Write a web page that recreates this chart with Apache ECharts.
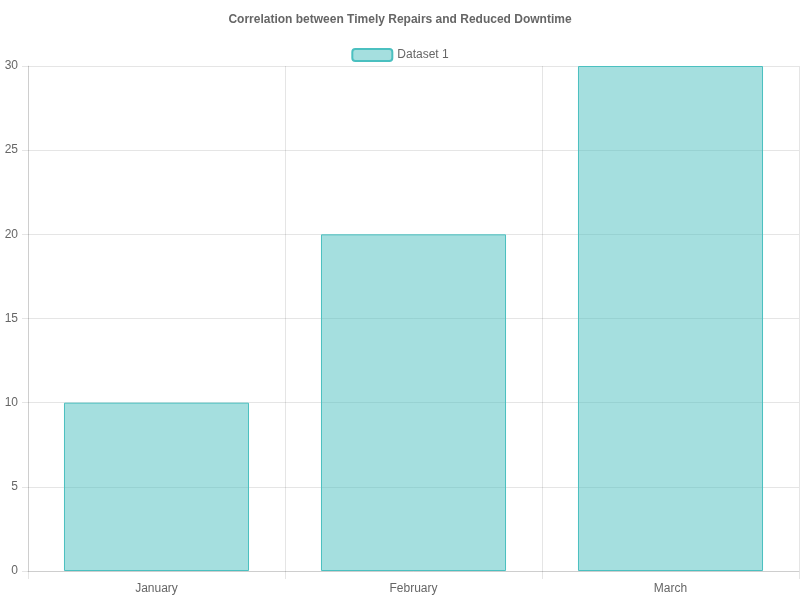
<!DOCTYPE html>
<html><head><meta charset="utf-8">
<script src="https://cdn.jsdelivr.net/npm/echarts@6/dist/echarts.min.js"></script>
<style>html,body{margin:0;padding:0;background:#fff}#c{width:800px;height:600px}</style>
</head><body><div id="c"></div>
<script>
const categories = ['January', 'February', 'March'];
const values = [10, 20, 30];
const yTicks = [0, 5, 10, 15, 20, 25, 30];
const gridColor = 'rgba(0,0,0,0.1)';
const font = 'Liberation Sans, Arial, sans-serif';
const chart = echarts.init(document.getElementById('c'));
chart.setOption({
  animation: false,
  textStyle: { fontFamily: font },
  title: { text: 'Correlation between Timely Repairs and Reduced Downtime', left: 'center', top: 9,
    textStyle: { fontSize: 12, fontWeight: 'bold', color: '#666', fontFamily: font } },
  legend: { top: 43, left: 'center', itemWidth: 40, itemHeight: 12, itemGap: 10,
    textStyle: { color: '#666', fontSize: 12, fontFamily: font }, data: ['Dataset 1'] },
  grid: { left: 28, right: 1, top: 66, bottom: 29, containLabel: false },
  xAxis: { type: 'category', data: categories, boundaryGap: true,
    axisLine: { lineStyle: { color: gridColor } },
    axisTick: { show: true, length: 8, lineStyle: { color: gridColor } },
    splitLine: { show: true, lineStyle: { color: gridColor } },
    axisLabel: { color: '#666', fontSize: 12, margin: 12, fontFamily: font } },
  yAxis: { type: 'value', min: yTicks[0], max: yTicks[yTicks.length-1], interval: 5,
    axisLine: { show: true, lineStyle: { color: gridColor } },
    axisTick: { show: true, length: 6, lineStyle: { color: gridColor } },
    splitLine: { lineStyle: { color: gridColor } },
    axisLabel: { color: '#666', fontSize: 12, margin: 10, fontFamily: font } },
  series: [{ name: 'Dataset 1', type: 'bar', data: values, barCategoryGap: '28%',
    itemStyle: { color: 'rgba(75,192,192,0.5)', borderColor: 'rgb(75,192,192)', borderWidth: 1 } }]
});
</script></body></html>
